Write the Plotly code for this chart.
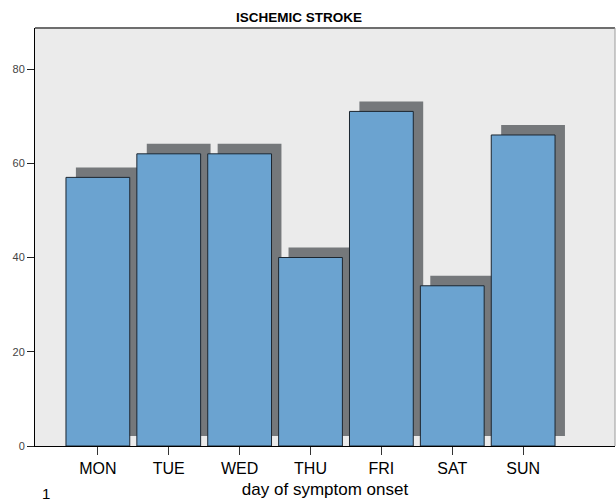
import plotly.graph_objects as go

days = ["MON", "TUE", "WED", "THU", "FRI", "SAT", "SUN"]
counts = [57, 62, 62, 40, 71, 34, 66]
y_ticks = [0, 20, 40, 60, 80]

xs = list(range(len(days)))
shadow_dx = 0.14
shadow_dy = 2.12

fig = go.Figure()
fig.add_trace(go.Bar(
    x=[v + shadow_dx for v in xs], y=counts, base=shadow_dy, width=0.9,
    marker=dict(color="#75787b", line=dict(width=0)), hoverinfo="skip",
))
fig.add_trace(go.Bar(
    x=xs, y=counts, width=0.9,
    marker=dict(color="#6ba3d0", line=dict(color="#1c2630", width=1)),
))
fig.update_layout(
    width=616, height=504, barmode="overlay", showlegend=False,
    margin=dict(l=35, r=1, t=28, b=58, pad=0),
    paper_bgcolor="white", plot_bgcolor="#ebebeb",
    font=dict(family="Arial, Liberation Sans, sans-serif", color="#000"),
)
fig.add_annotation(text="<b>ISCHEMIC STROKE</b>", xref="paper", yref="paper",
                   x=0.455, y=1, xanchor="center", yanchor="bottom", yshift=1,
                   showarrow=False, font=dict(size=13.5, color="#000"))
fig.update_xaxes(
    range=[-0.887, 7.296], tickmode="array", tickvals=xs, ticktext=days,
    ticks="outside", ticklen=8, tickcolor="#333", showgrid=False, zeroline=False,
    showline=True, linecolor="#000", linewidth=1, mirror=False,
    tickfont=dict(size=16), title=dict(text="day of symptom onset", font=dict(size=17), standoff=6),
)
fig.update_yaxes(
    range=[0, 88.7], tickmode="array", tickvals=y_ticks,
    ticks="outside", ticklen=7, tickcolor="#222", showgrid=False, zeroline=False,
    showline=True, linecolor="#000", linewidth=1,
    tickfont=dict(size=11, color="#444"),
)
# frame top and right edges
fig.add_shape(type="line", xref="paper", yref="paper", x0=0, x1=1, y0=1, y1=1,
              line=dict(color="#6e6e6e", width=2))
fig.add_shape(type="line", xref="paper", yref="paper", x0=1, x1=1, y0=0, y1=1,
              line=dict(color="#9a9a9a", width=1))
fig.add_annotation(text="1", xref="paper", yref="paper", x=0.008, y=-0.1388,
                   xanchor="left", yanchor="bottom", showarrow=False, font=dict(size=15))
fig.write_html(
    "out.html",
    config={"displayModeBar": False},
    post_script="document.body.style.margin='0';document.body.style.overflow='hidden';",
)
